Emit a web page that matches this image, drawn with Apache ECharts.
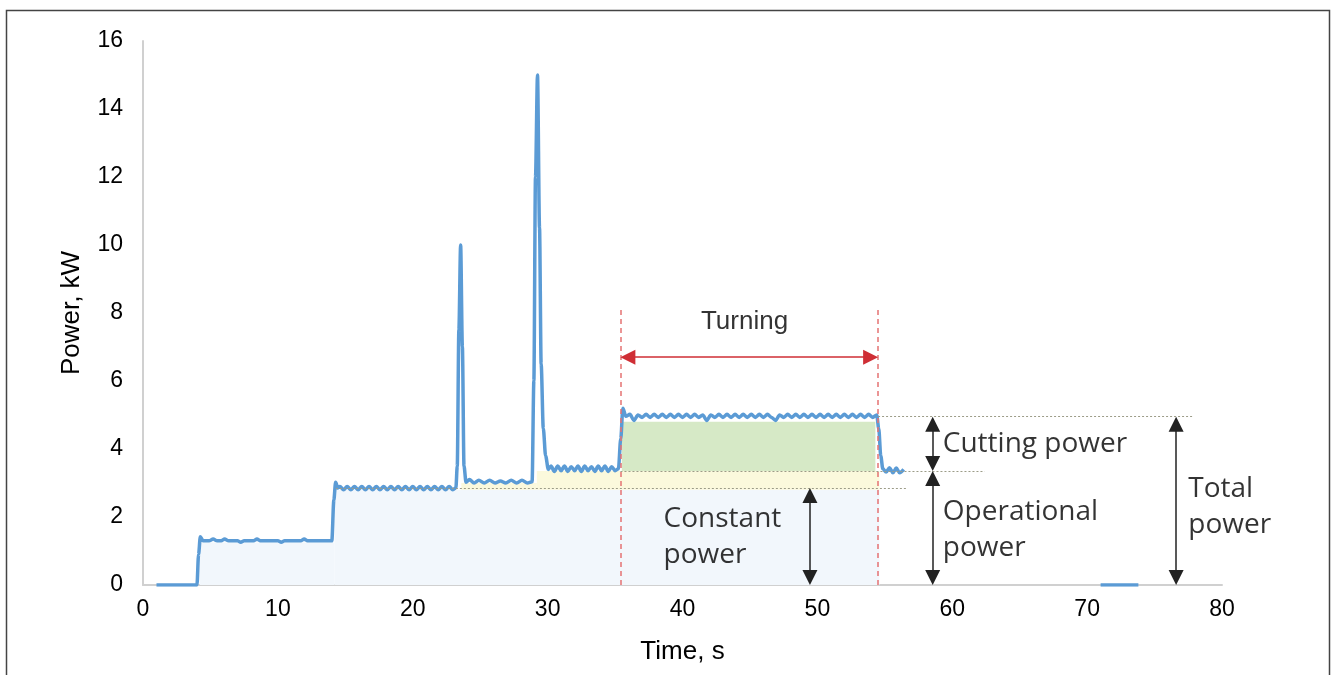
<!DOCTYPE html>
<html>
<head>
<meta charset="utf-8">
<title>Machining power profile</title>
<script src="https://cdn.jsdelivr.net/npm/echarts@6/dist/echarts.min.js"></script>
<style>
  html, body { margin: 0; padding: 0; background: #fff; }
  #chart { width: 1333px; height: 675px; }
</style>
</head>
<body>
<div id="chart"></div>
<script>
const idleOn = [[1.0,0],[4.0,0],[4.12,0.9],[4.25,1.42],[4.45,1.3],[4.9,1.3],[5.2,1.35],[5.5,1.3],[5.8,1.3],[6.05,1.35],[6.35,1.3],[7.0,1.3],[7.25,1.26],[7.5,1.3],[8.2,1.3],[8.45,1.35],[8.7,1.3],[10.0,1.3],[10.25,1.26],[10.5,1.3],[11.7,1.3],[11.95,1.35],[12.2,1.3],[14.0,1.3]];
const spindleOn = [[14.15,2.5],[14.28,3.02],[14.45,2.85],[14.6,2.9],[14.87,2.8],[15.14,2.9],[15.41,2.8],[15.68,2.9],[15.95,2.8],[16.22,2.9],[16.49,2.8],[16.76,2.9],[17.03,2.8],[17.3,2.9],[17.57,2.8],[17.84,2.9],[18.11,2.8],[18.38,2.9],[18.65,2.8],[18.92,2.9],[19.19,2.8],[19.46,2.9],[19.73,2.8],[20.0,2.9],[20.27,2.8],[20.54,2.9],[20.81,2.8],[21.08,2.9],[21.35,2.8],[21.62,2.9],[21.89,2.8],[22.16,2.9],[22.43,2.8],[22.7,2.9],[22.97,2.8],[23.2,2.86]];
const firstPeak = [[23.3,3.5],[23.42,7.5],[23.55,10.0],[23.68,7.0],[23.8,3.5],[23.95,3.02]];
const approach = [[24.2,3.1],[24.55,3.0],[24.9,3.08],[25.3,3.0],[25.7,3.08],[26.1,3.0],[26.5,3.06],[26.9,3.0],[27.3,3.08],[27.7,3.0],[28.1,3.08],[28.5,3.0],[28.85,3.04]];
const secondPeak = [[28.98,6.0],[29.1,12.0],[29.25,15.0],[29.4,10.5],[29.52,6.5],[29.68,4.6],[29.85,3.8],[30.05,3.4]];
const ready = [[30.25,3.5],[30.5,3.34],[30.75,3.5],[31.0,3.36],[31.25,3.5],[31.5,3.34],[31.75,3.48],[32.0,3.36],[32.25,3.5],[32.5,3.34],[32.75,3.5],[33.0,3.36],[33.25,3.48],[33.5,3.34],[33.75,3.5],[34.0,3.36],[34.25,3.5],[34.5,3.34],[34.75,3.48],[35.0,3.36],[35.25,3.42]];
const turning = [[35.42,4.3],[35.58,5.2],[35.8,4.96],[36.1,5.02],[36.4,4.84],[36.7,5.0],[37.0,4.93],[37.3,5.02],[37.6,4.93],[37.9,5.02],[38.2,4.93],[38.5,5.02],[38.8,4.93],[39.1,5.02],[39.4,4.93],[39.7,5.02],[40.0,4.93],[40.3,5.02],[40.6,4.93],[40.9,5.02],[41.2,4.93],[41.5,5.0],[41.8,4.84],[42.1,5.0],[42.4,4.93],[42.7,5.02],[43.0,4.93],[43.3,5.02],[43.6,4.93],[43.9,5.02],[44.2,4.93],[44.5,5.02],[44.8,4.93],[45.1,5.02],[45.4,4.93],[45.7,5.02],[46.0,4.93],[46.3,5.02],[46.6,4.93],[46.9,4.84],[47.2,5.0],[47.5,4.93],[47.8,5.02],[48.1,4.93],[48.4,5.02],[48.7,4.93],[49.0,5.02],[49.3,4.93],[49.6,5.02],[49.9,4.93],[50.2,5.02],[50.5,4.93],[50.8,5.02],[51.1,4.93],[51.4,5.02],[51.7,4.93],[52.0,5.02],[52.3,4.93],[52.6,5.02],[52.9,4.93],[53.2,5.02],[53.5,4.93],[53.8,5.02],[54.1,4.93],[54.4,5.0]];
const retract = [[54.55,4.6],[54.7,3.8],[54.85,3.42],[55.1,3.32],[55.35,3.45],[55.6,3.3],[55.85,3.44],[56.1,3.3],[56.4,3.4]];
const standby = [[71.0,0],[73.8,0]];

// power levels and the turning window, kW / s
const constantLevel = 2.85;
const operationalLevel = 3.35;
const totalLevel = 4.95;
const turningStart = 35.4;
const turningEnd = 54.5;

const xTicks = [0, 10, 20, 30, 40, 50, 60, 70, 80];
const yTicks = [0, 2, 4, 6, 8, 10, 12, 14, 16];

const trace = [].concat(idleOn, spindleOn, firstPeak, approach, secondPeak, ready, turning, retract);

const chart = echarts.init(document.getElementById('chart'));

const tickFont = 'Liberation Sans, Arial, sans-serif';
const noteFont = 'Open Sans, Liberation Sans, sans-serif';

// helpers for the reference lines
const dotted = (x1, x2, y) => [
  { coord: [x1, y], symbol: 'none', lineStyle: { color: '#9c9c88', type: [2, 2], width: 1.2 } },
  { coord: [x2, y], symbol: 'none' }
];
const blackArrow = (x, y1, y2) => [
  { coord: [x, y1], symbol: 'triangle', lineStyle: { color: '#222', type: 'solid', width: 1.5 } },
  { coord: [x, y2], symbol: 'triangle' }
];

const option = {
  animation: false,
  grid: { left: 143, right: 111, top: 41, bottom: 90 },
  xAxis: {
    type: 'value', min: xTicks[0], max: xTicks[xTicks.length - 1], interval: 10,
    name: 'Time, s', nameLocation: 'middle', nameGap: 54,
    nameTextStyle: { fontFamily: tickFont, fontSize: 26, color: '#000' },
    axisLine: { lineStyle: { color: '#d0d0d0', width: 2 } },
    axisTick: { show: false },
    splitLine: { show: false },
    axisLabel: { fontFamily: tickFont, fontSize: 23, color: '#000', margin: 13 }
  },
  yAxis: {
    type: 'value', min: yTicks[0], max: yTicks[yTicks.length - 1], interval: 2,
    name: 'Power, kW', nameLocation: 'middle', nameGap: 58,
    nameTextStyle: { fontFamily: tickFont, fontSize: 26, color: '#000' },
    axisLine: { show: true, lineStyle: { color: '#d0d0d0', width: 2 } },
    axisTick: { show: false },
    splitLine: { show: false },
    axisLabel: { fontFamily: tickFont, fontSize: 23, color: '#000', margin: 20 }
  },
  graphic: [{
    type: 'rect', left: 4, top: 8,
    shape: { width: 1323, height: 680 },
    style: { fill: 'none', stroke: '#444', lineWidth: 1.5 },
    silent: true
  }],
  series: [
    {
      // shaded power shares and guide lines
      name: 'guides', type: 'line', data: [], z: 1, silent: true,
      markArea: {
        silent: true,
        data: [
          [{ coord: [4.2, 0], itemStyle: { color: '#f2f7fc' } }, { coord: [14.2, 1.25] }],
          [{ coord: [14.2, 0], itemStyle: { color: '#f2f7fc' } }, { coord: [turningEnd + 0.1, constantLevel - 0.05] }],
          [{ coord: [23.6, constantLevel - 0.05], itemStyle: { color: '#fbf9dc' } }, { coord: [29.2, 3.0] }],
          [{ coord: [29.2, constantLevel - 0.05], itemStyle: { color: '#fbf9dc' } }, { coord: [turningEnd + 0.1, operationalLevel] }],
          [{ coord: [turningStart + 0.1, operationalLevel], itemStyle: { color: '#d6e9c6' } }, { coord: [turningEnd - 0.2, 4.8] }]
        ]
      },
      markLine: {
        silent: true,
        symbolSize: [15, 15],
        label: { show: false },
        data: [
          dotted(14.3, 56.6, constantLevel),
          dotted(turningStart, 62.4, operationalLevel),
          dotted(turningEnd, 77.8, totalLevel),
          [{ coord: [turningStart, 0], symbol: 'none', lineStyle: { color: '#e57373', type: [5, 4], width: 1.5 } }, { coord: [turningStart, 8.1], symbol: 'none' }],
          [{ coord: [turningEnd, 0], symbol: 'none', lineStyle: { color: '#e57373', type: [5, 4], width: 1.5 } }, { coord: [turningEnd, 8.1], symbol: 'none' }],
          [{ coord: [turningStart + 0.55, 6.7], symbol: 'triangle', lineStyle: { color: '#cf2e35', type: 'solid', width: 1.5 } }, { coord: [turningEnd - 0.55, 6.7], symbol: 'triangle' }],
          blackArrow(49.45, constantLevel - 0.22, 0.22),
          blackArrow(58.55, totalLevel - 0.22, operationalLevel + 0.22),
          blackArrow(58.55, operationalLevel - 0.22, 0.22),
          blackArrow(76.6, totalLevel - 0.22, 0.22)
        ]
      }
    },
    {
      name: 'power', type: 'line', data: trace, z: 3,
      showSymbol: false, smooth: 0.3, smoothMonotone: 'x',
      lineStyle: { color: '#5b9bd5', width: 3.5 }
    },
    {
      name: 'standby', type: 'line', data: standby, z: 3,
      showSymbol: false,
      lineStyle: { color: '#5b9bd5', width: 3.5 }
    },
    {
      // annotation texts
      name: 'notes', type: 'scatter', symbolSize: 0, z: 4, silent: true,
      label: { show: true, fontFamily: noteFont, fontSize: 28, color: '#000', lineHeight: 36, position: 'right', distance: 0 },
      data: [
        { value: [44.6, 7.75], name: 'Turning', label: { position: 'inside', fontSize: 26, fontFamily: tickFont } },
        { value: [38.6, 1.4], name: 'Constant\npower' },
        { value: [59.3, 4.15], name: 'Cutting power' },
        { value: [59.3, 1.62], name: 'Operational\npower' },
        { value: [77.5, 2.3], name: 'Total\npower' }
      ],
      labelLayout: { hideOverlap: false }
    }
  ]
};
option.series[3].label.formatter = p => p.name;

chart.setOption(option);
</script>
</body>
</html>
